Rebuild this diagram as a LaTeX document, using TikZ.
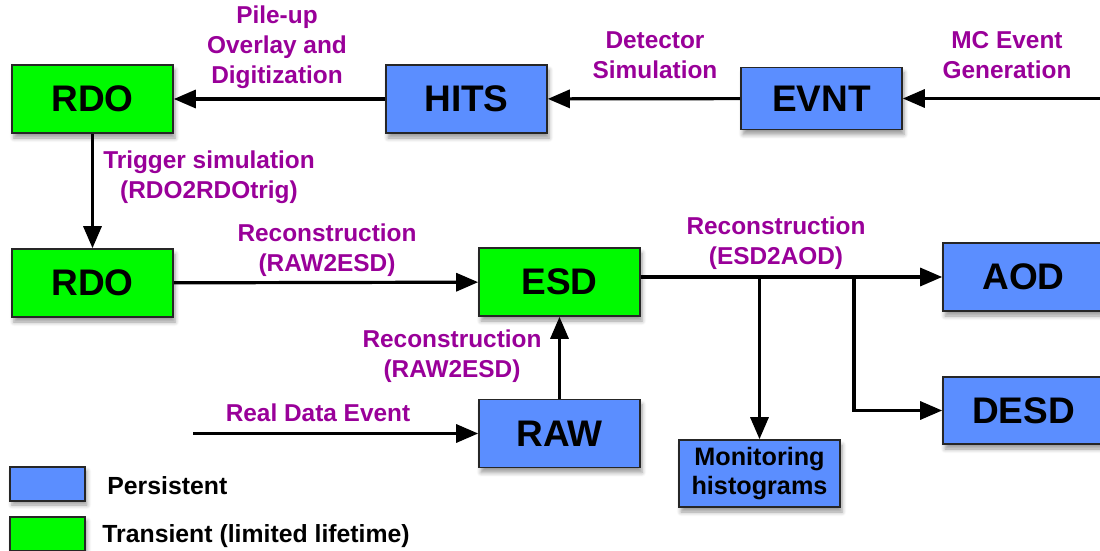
\documentclass[tikz,border=0pt]{standalone}
\usepackage{fontspec}
\setmainfont{Liberation Sans}
\usetikzlibrary{positioning,arrows.meta,shadows.blur}
\definecolor{persblue}{RGB}{91,142,255}
\definecolor{transgreen}{RGB}{0,250,0}
\definecolor{steppurple}{RGB}{153,0,153}
\tikzset{
  box/.style={draw=black!85,line width=0.8pt,minimum width=80.5pt,minimum height=34pt,inner sep=0pt,
    font=\fontsize{18.5}{22}\selectfont\bfseries,blur shadow={shadow xshift=1pt,shadow yshift=-2.5pt,shadow blur steps=5,shadow opacity=40}},
  persist/.style={box,fill=persblue},
  trans/.style={box,fill=transgreen},
  keybox/.style={draw=black!85,line width=0.8pt,minimum width=37.5pt,minimum height=17pt,inner sep=0pt,
    blur shadow={shadow xshift=1pt,shadow yshift=-2pt,shadow blur steps=5,shadow opacity=40}},
  flow/.style={line width=1.6pt,-{Triangle[length=11pt,width=9pt]}},
  steplab/.style={text=steppurple,font=\fontsize{12.2}{15}\selectfont\bfseries,align=center,inner sep=0pt},
  keylab/.style={font=\fontsize{12.4}{15}\selectfont\bfseries,anchor=west,inner sep=0pt}
}
\begin{document}
\begin{tikzpicture}[x=0.5pt,y=-0.5pt]
  \useasboundingbox (0,0) rectangle (1100,551);
  % data formats
  \node[trans] (rdoa) at (92.5,99) {RDO};
  \node[persist] (hits) at (466.5,99) {HITS};
  \node[persist,minimum height=31pt] (evnt) at (821.5,98.5) {EVNT};
  \node[trans] (rdob) at (92.5,283) {RDO};
  \node[trans] (esd) at (559.5,282) {ESD};
  \node[persist] (raw) at (559.5,433.5) {RAW};
  \node[persist] (aod) at (1023.5,277) {AOD};
  \node[persist,minimum height=33.5pt] (desd) at (1023.5,410.5) {DESD};
  \node[persist,minimum height=33.5pt,font=\fontsize{12.6}{14.5}\selectfont\bfseries,align=center] (mon) at (759.5,473.5) {Monitoring\\histograms};
  \coordinate (mcin) at (1100,98.5);
  \coordinate (datain) at (193,433.5);
  \coordinate (monsplit) at (mon.north |- aod.west);
  \coordinate (desdsplit) at (854,277);
  % processing steps
  \draw[flow] (mcin) -- (evnt);
  \draw[flow] (evnt) -- (hits);
  \draw[flow] (hits) -- (rdoa);
  \draw[flow] (rdoa) -- (rdob);
  \draw[flow] (rdob) -- (esd);
  \draw[flow] (datain) -- (raw);
  \draw[flow] (raw) -- (esd);
  \draw[flow] (esd.east |- aod.west) -- (aod.west);
  \draw[flow] (monsplit) -- (mon.north);
  \draw[flow] (desdsplit) |- (desd.west);
  \node[steplab] (pileup) at (277,47) {Pile-up\\Overlay and\\Digitization};
  \node[steplab] (detsim) at (655,55) {Detector\\Simulation};
  \node[steplab] (mcgen) at (1007,55) {MC Event\\Generation};
  \node[steplab] (trigsim) at (209,177) {Trigger simulation\\(RDO2RDOtrig)};
  \node[steplab] (recoa) at (327,250) {Reconstruction\\(RAW2ESD)};
  \node[steplab] (recob) at (452,356) {Reconstruction\\(RAW2ESD)};
  \node[steplab] (realdata) at (318,413) {Real Data Event};
  \node[steplab] (recoc) at (776,243) {Reconstruction\\(ESD2AOD)};
  % legend
  \node[keybox,fill=persblue] (keyp) at (47.5,484) {};
  \node[keybox,fill=transgreen] (keyt) at (47.5,534) {};
  \node[keylab] (keyptext) at (107,486) {Persistent};
  \node[keylab] (keyttext) at (102,536) {Transient (limited lifetime)};
\end{tikzpicture}
\end{document}
